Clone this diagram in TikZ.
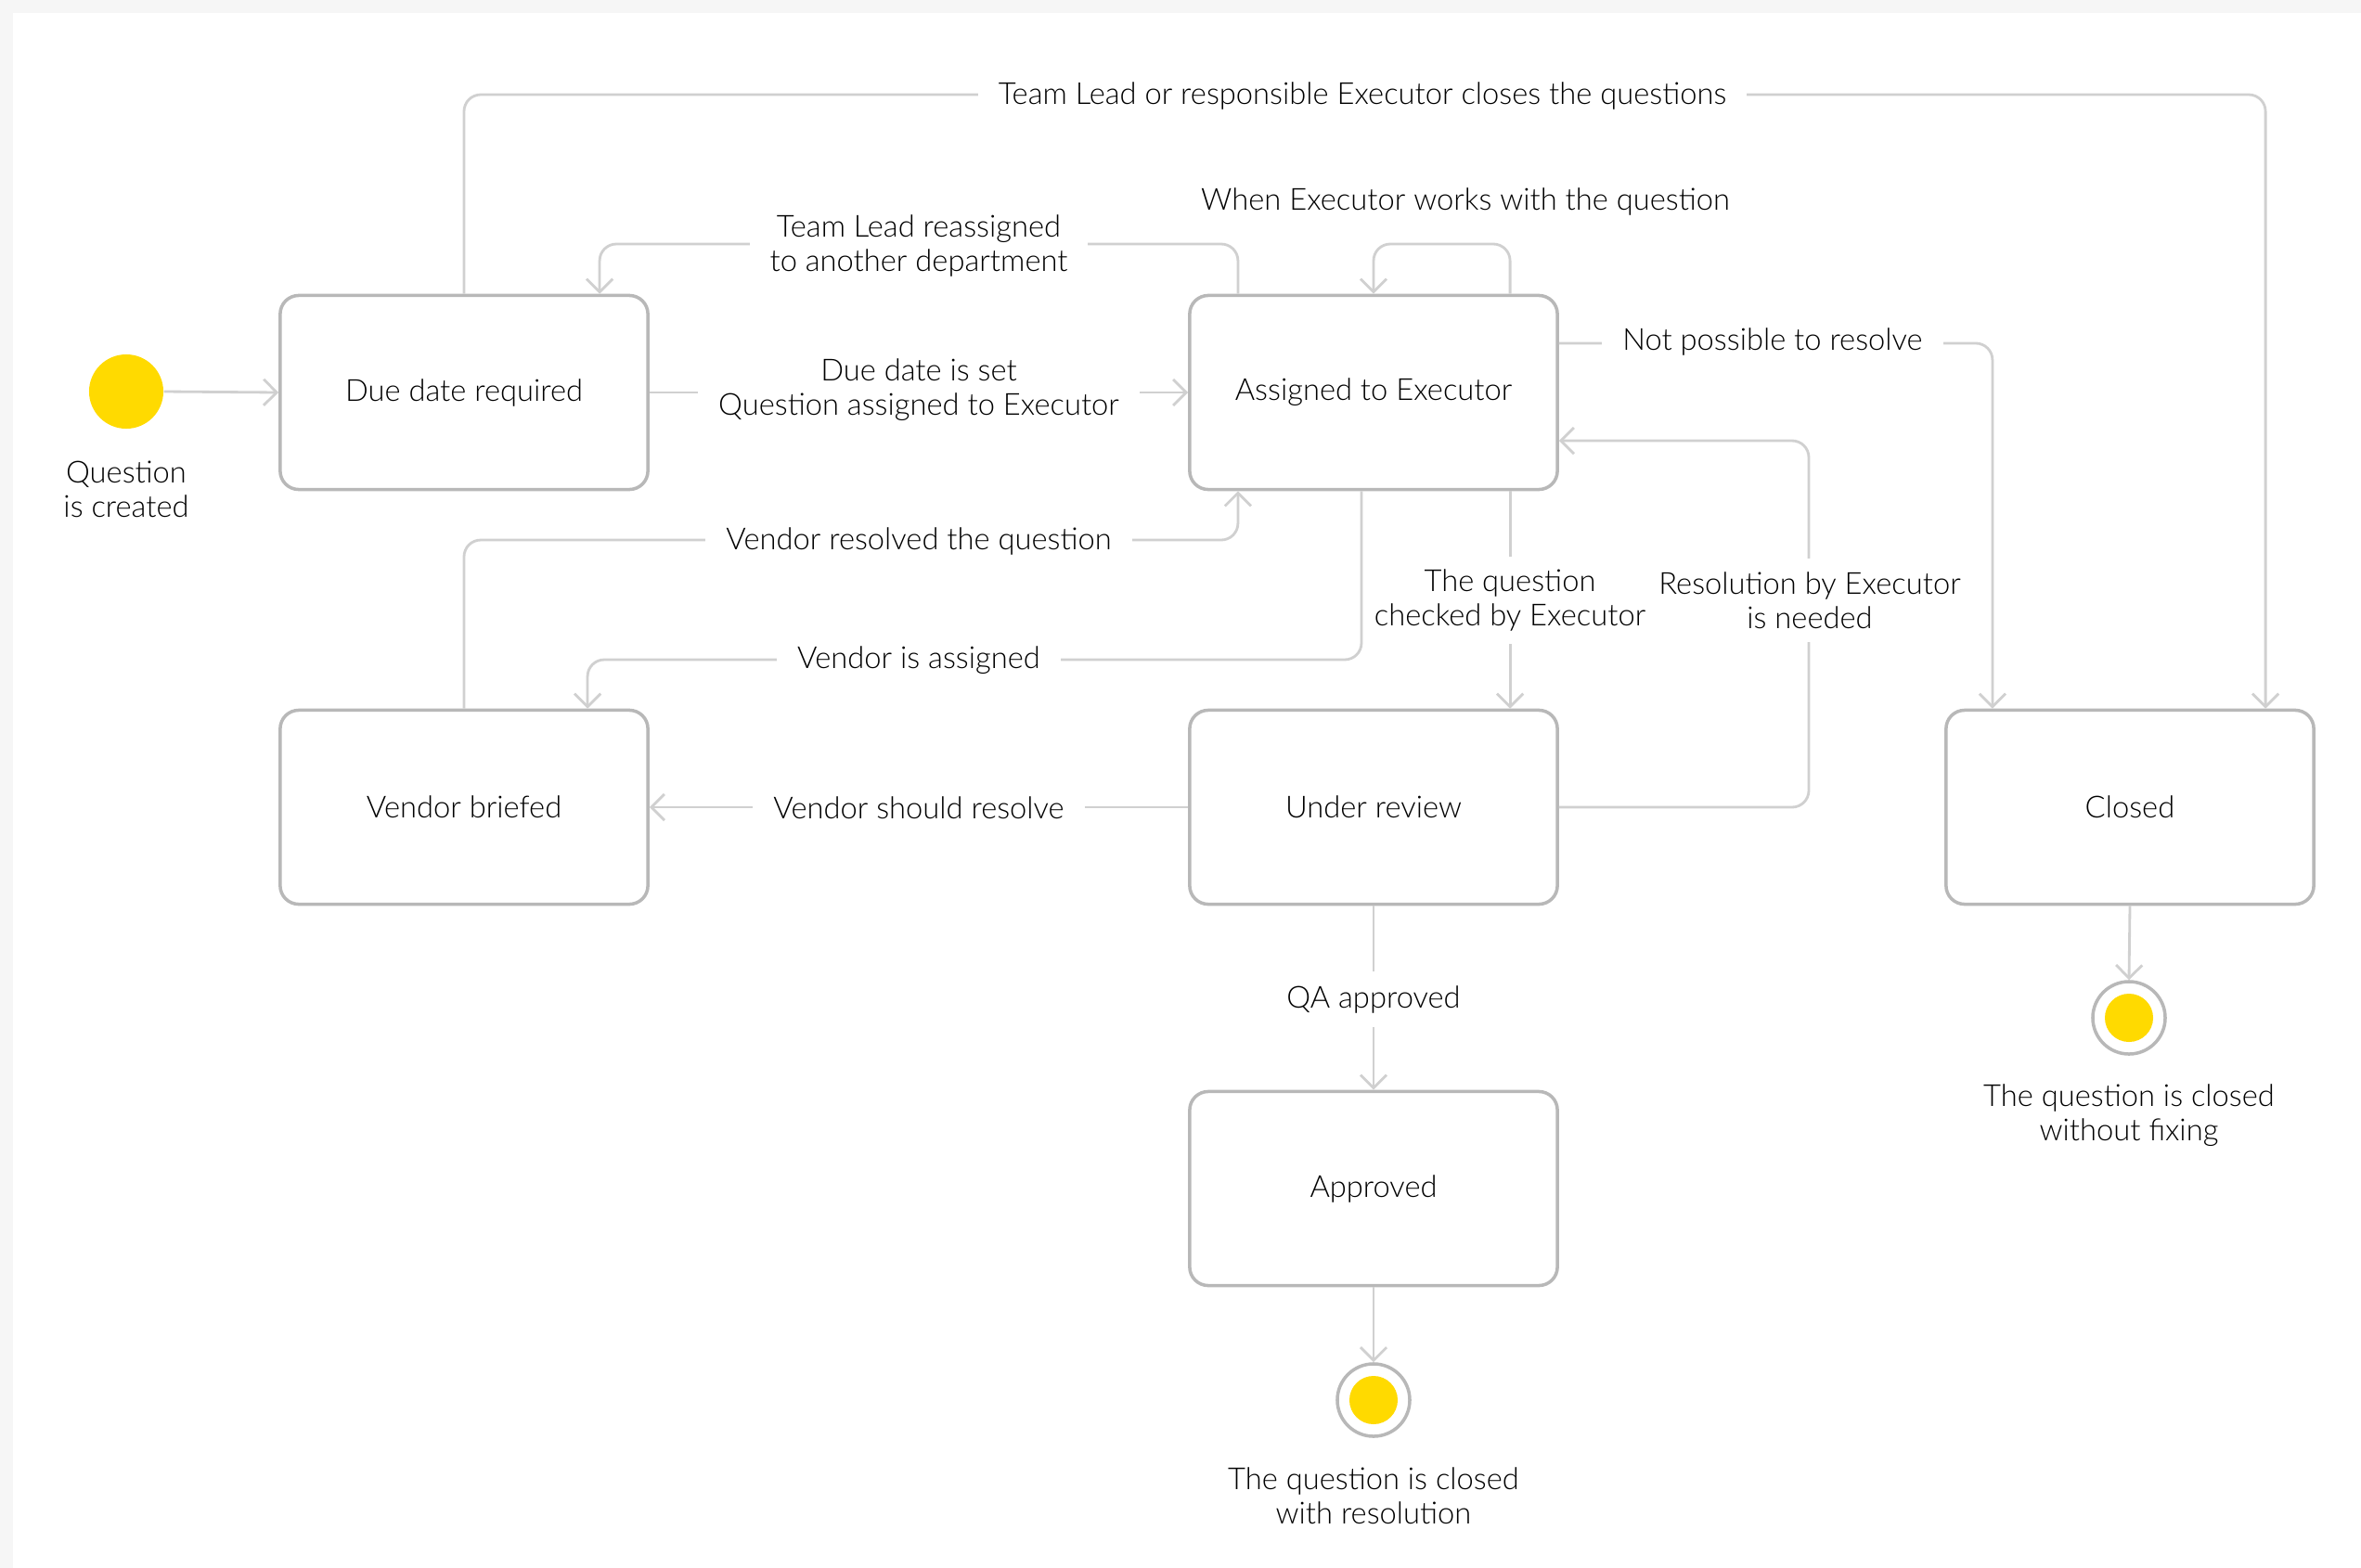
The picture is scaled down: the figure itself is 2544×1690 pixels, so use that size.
\documentclass[tikz,border=0pt]{standalone}
\usepackage{fontspec}
\setmainfont{Lato Light}
\usetikzlibrary{arrows.meta}
\definecolor{qyellow}{HTML}{FFDA00}
\definecolor{bggray}{HTML}{F6F6F6}
\definecolor{boxgray}{HTML}{B8B8B8}
\definecolor{lngray}{HTML}{D0D0D0}
\definecolor{txtc}{HTML}{000000}
\newcommand{\dfont}{\fontsize{9.3pt}{10.6pt}\selectfont}
\begin{document}
\begin{tikzpicture}[x=0.01cm,y=-0.01cm,
  state/.style={draw=boxgray, line width=1pt, rounded corners=0.2cm, minimum width=3.96cm,
    minimum height=2.09cm, fill=white, font=\dfont, text=txtc, align=center},
  conn/.style={draw=lngray, line width=0.8pt, rounded corners=0.18cm,
    -{Straight Barb[length=4pt,width=8pt]}},
  lab/.style={fill=white, text=txtc, align=center, inner xsep=0.22cm, inner ysep=0.1cm, font=\dfont},
  vlab/.style={lab, inner xsep=2pt, inner ysep=0.14cm},
  plain/.style={text=txtc, align=center, font=\dfont},
  finalst/.style={circle, draw=boxgray, line width=1pt, minimum size=0.78cm, fill=white,
    path picture={\fill[qyellow] (path picture bounding box.center) circle (0.26cm);}}
]
\fill[bggray] (0,0) rectangle (2544,1690);
\fill[white] (14,14) rectangle (2544,1690);
\useasboundingbox (0,0) rectangle (2544,1690);

% states
\node[circle, fill=qyellow, minimum size=0.8cm, inner sep=0pt] (start) at (136,422) {};
\node[plain] (startlab) at (136,527) {Question\\is created};
\node[state] (due) at (500,423) {Due date required};
\node[state] (asg) at (1480,423) {Assigned to Executor};
\node[state] (ven) at (500,870) {Vendor briefed};
\node[state] (rev) at (1480,870) {Under review};
\node[state] (clo) at (2295,870) {Closed};
\node[state] (app) at (1480,1281) {Approved};
\node[finalst] (end1) at (2294,1097) {};
\node[finalst] (end2) at (1480,1509) {};
\node[plain] (end1lab) at (2294,1202) {The question is closed\\without fixing};
\node[plain] (end2lab) at (1480,1612) {The question is closed\\with resolution};

% connectors
\draw[conn] (start.east) -- (due.west);
\draw[conn] (due.east) -- (asg.west);
\draw[conn] ([xshift=-1.46cm]asg.north) |- (990,263) -| ([xshift=1.46cm]due.north);
\draw[conn] (due.north) |- (1468,102) -| ([xshift=1.46cm]clo.north);
\draw[conn] ([xshift=1.47cm]asg.north) |- (1550,263) -| (asg.north);
\draw[conn] ([yshift=0.53cm]asg.east) -| ([xshift=-1.48cm]clo.north);
\draw[conn] (rev.east) -| (1949,475) -- ([yshift=-0.52cm]asg.east);
\draw[conn] ([xshift=1.47cm]asg.south) -- ([xshift=1.47cm]rev.north);
\draw[conn] ([xshift=-0.13cm]asg.south) |- (990,711) -| ([xshift=1.33cm]ven.north);
\draw[conn] (ven.north) |- (990,582) -| ([xshift=-1.46cm]asg.south);
\draw[conn] (rev.west) -- (ven.east);
\draw[conn] (rev.south) -- (app.north);
\draw[conn] (app.south) -- (end2.north);
\draw[conn] (clo.south) -- (end1.north);

% labels
\node[lab] (l1) at (990,420) {Due date is set\\Question assigned to Executor};
\node[lab] (l2) at (990,265) {Team Lead reassigned\\to another department};
\node[lab] (l3) at (1468,103) {Team Lead or responsible Executor closes the questions};
\node[plain] (l4) at (1579,217) {When Executor works with the question};
\node[lab] (l5) at (1910,368) {Not possible to resolve};
\node[vlab] (l6) at (1950,647) {Resolution by Executor\\is needed};
\node[vlab] (l7) at (1627,647) {The question\\checked by Executor};
\node[lab] (l8) at (990,712) {Vendor is assigned};
\node[lab] (l9) at (990,583) {Vendor resolved the question};
\node[lab] (l10) at (990,871) {Vendor should resolve};
\node[lab, inner ysep=0.15cm] (l11) at (1480,1077) {QA approved};
\end{tikzpicture}
\end{document}
